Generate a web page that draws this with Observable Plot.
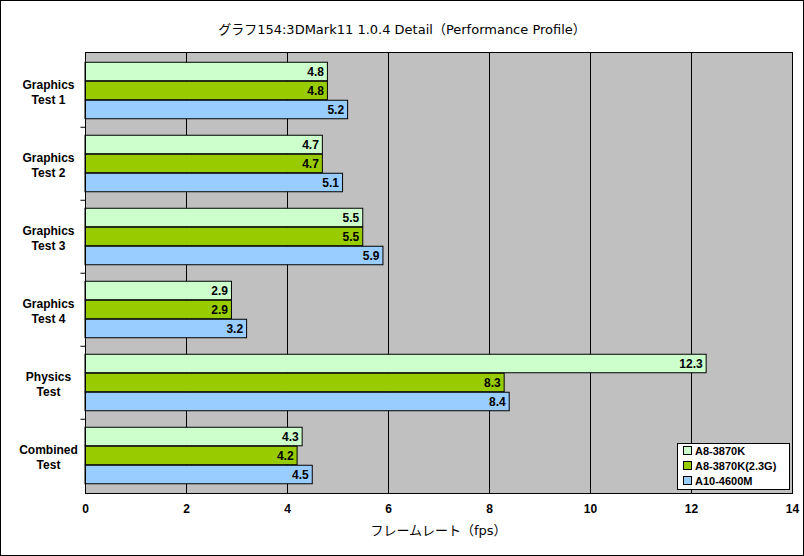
<!DOCTYPE html>
<html><head><meta charset="utf-8">
<script src="https://cdn.jsdelivr.net/npm/d3@7"></script>
<script src="https://cdn.jsdelivr.net/npm/@observablehq/plot@0.6"></script>
<style>
body{margin:0;background:#fff;}
#wrap{position:relative;width:804px;height:556px;outline:1px solid #000;outline-offset:-1px;font-family:"DejaVu Sans","Noto Sans CJK JP",sans-serif;}
#title{position:absolute;left:0;width:804px;top:19px;text-align:center;font-size:13px;}
#xlabel{position:absolute;left:85px;width:707px;top:520px;text-align:center;font-size:13px;}
#legend{position:absolute;left:677px;top:443px;width:111px;height:45px;border:1px solid #000;background:#fff;font-size:11px;font-weight:bold;font-family:"Liberation Sans",sans-serif;}
#legend div{height:15px;line-height:15px;padding-left:5px;white-space:nowrap;}
#legend span{display:inline-block;width:7px;height:7px;border:1px solid #000;margin-right:3px;vertical-align:0px;}
svg text{font-weight:bold;}
</style></head>
<body><div id="wrap"><div id="chart"></div>
<div id="title">グラフ154:3DMark11 1.0.4 Detail（Performance Profile）</div>
<div id="xlabel">フレームレート（fps）</div>
<div id="legend"></div></div>
<script>
const categories = ["Graphics\nTest 1","Graphics\nTest 2","Graphics\nTest 3","Graphics\nTest 4","Physics\nTest","Combined\nTest"];
const seriesNames = ["A8-3870K","A8-3870K(2.3G)","A10-4600M"];
const a8 = [4.8,4.7,5.5,2.9,12.3,4.3];
const a8_23 = [4.8,4.7,5.5,2.9,8.3,4.2];
const a10 = [5.2,5.1,5.9,3.2,8.4,4.5];
const xTicks = [0,2,4,6,8,10,12,14];
const colors = ["#CCFFCC","#99CC00","#99CCFF"];

const W=804,H=556,mT=52,mB=63,mL=85,mR=12;
const bw=(H-mT-mB)/categories.length, barH=19, off=(bw-3*barH)/2;
const seriesVals=[a8,a8_23,a10];
const marks=[Plot.frame({fill:"#C0C0C0",stroke:"#000"}),
  Plot.ruleX(xTicks.slice(1,-1),{stroke:"#000"})];
seriesVals.forEach((vals,i)=>{
  const rows=categories.map((c,j)=>({c,v:vals[j]}));
  marks.push(Plot.barX(rows,{x:"v",y:"c",fill:colors[i],stroke:"#000",strokeWidth:1,
    insetTop:off+i*barH,insetBottom:bw-off-(i+1)*barH}));
  marks.push(Plot.text(rows,{x:"v",y:"c",text:d=>d.v.toFixed(1),textAnchor:"end",dx:-4,
    dy:-bw/2+off+(i+0.5)*barH,fontSize:12,fill:"#000"}));
});
marks.push(Plot.ruleY(categories.slice(1),{y:d=>d,x1:-0.09,x2:0,dy:-bw/2,stroke:"#000"}));
marks.push(Plot.ruleX([0],{stroke:"#000"}));
marks.push(Plot.text(categories,{y:d=>d,frameAnchor:"left",dx:-37,dy:1,textAnchor:"middle",lineHeight:1.2,fontSize:12,fill:"#000",fontFamily:"'Liberation Sans',sans-serif"}));
marks.push(Plot.axisX({ticks:xTicks,tickSize:0,tickPadding:11,fontSize:12,label:null}));

const chart=Plot.plot({width:W,height:H,marginTop:mT,marginBottom:mB,marginLeft:mL,marginRight:mR,
  style:{fontFamily:"'Liberation Sans','DejaVu Sans',sans-serif",fontSize:"12px",background:"transparent",overflow:"visible"},
  x:{domain:[0,14]},
  y:{domain:categories,padding:0,axis:null},
  marks});
document.getElementById("chart").appendChild(chart);
const lg=document.getElementById("legend");
seriesNames.forEach((s,i)=>{const d=document.createElement("div");d.innerHTML=`<span style="background:${colors[i]}"></span>${s}`;lg.appendChild(d);});
</script></body></html>
